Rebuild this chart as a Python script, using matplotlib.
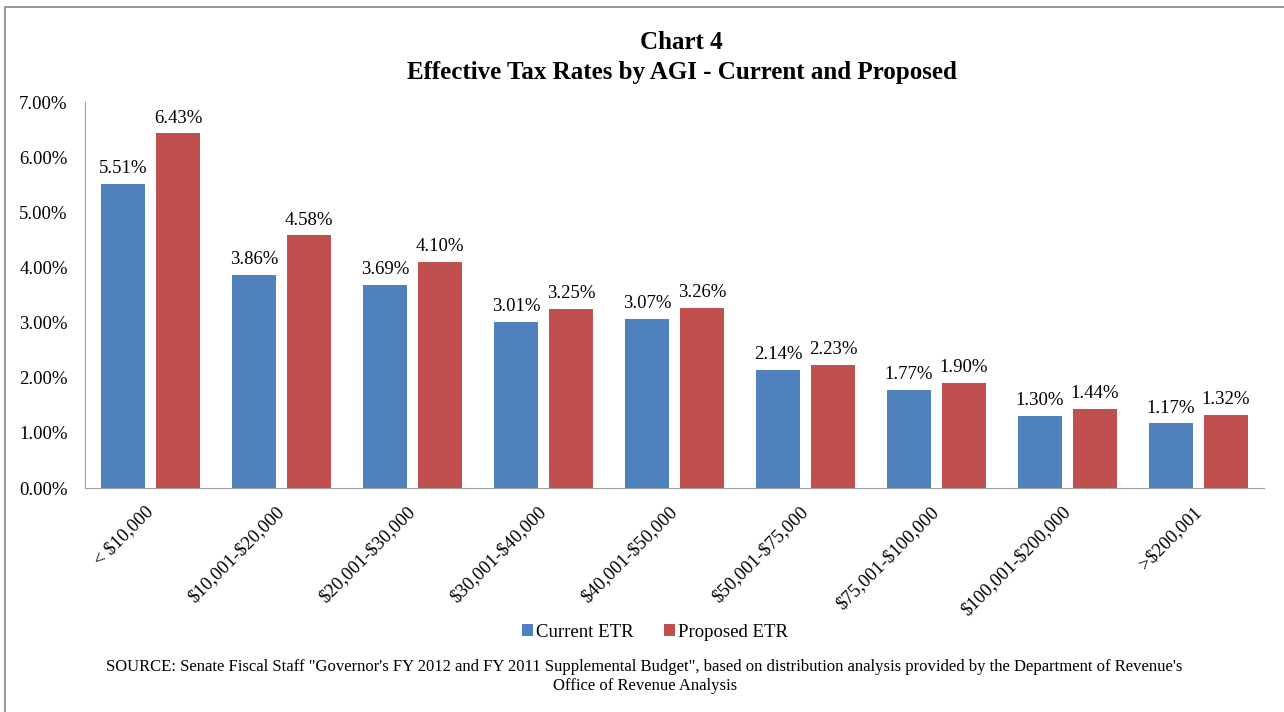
import matplotlib.pyplot as plt
import matplotlib.patches as mpatches
from matplotlib.transforms import ScaledTranslation
import numpy as np

categories = ['< $10,000', '$10,001-$20,000', '$20,001-$30,000', '$30,001-$40,000',
              '$40,001-$50,000', '$50,001-$75,000', '$75,001-$100,000',
              '$100,001-$200,000', '>$200,001']
current_etr = [5.51, 3.86, 3.69, 3.01, 3.07, 2.14, 1.77, 1.30, 1.17]
proposed_etr = [6.43, 4.58, 4.10, 3.25, 3.26, 2.23, 1.90, 1.44, 1.32]
yticks = [0, 1, 2, 3, 4, 5, 6, 7]

plt.rcParams['font.family'] = ['Liberation Serif', 'DejaVu Serif']
plt.rcParams['text.parse_math'] = False

fig = plt.figure(figsize=(12.84, 7.12), dpi=100)
ax = fig.add_axes([0.0662, 0.3146, 0.9182, 0.5421])

x = np.arange(len(categories))
w = 0.34
b1 = ax.bar(x - 0.21, current_etr, w, color='#4F81BD', label='Current ETR')
b2 = ax.bar(x + 0.21, proposed_etr, w, color='#C0504D', label='Proposed ETR')

# value labels
for bars, vals in ((b1, current_etr), (b2, proposed_etr)):
    for b, v in zip(bars, vals):
        ax.annotate('%.2f%%' % v, (b.get_x() + b.get_width() / 2, v),
                    xytext=(0, 5), textcoords='offset points',
                    ha='center', va='bottom', fontsize=13.5)

ax.set_xlim(-0.5, len(categories) - 0.5)
ax.set_ylim(0, 7)
ax.set_yticks(yticks)
ax.set_yticklabels(['%.2f%%' % t for t in yticks], fontsize=13.5)
ax.set_xticks(x)
ax.set_xticklabels(categories, rotation=45, ha='right', rotation_mode='anchor', fontsize=13.5)
ax.tick_params(axis='both', length=0)
ax.tick_params(axis='y', pad=12.5)
ax.tick_params(axis='x', pad=11)
# nudge the slanted labels a little left
shift = ScaledTranslation(-6 / 100, 0, fig.dpi_scale_trans)
for lbl in ax.get_xticklabels():
    lbl.set_transform(lbl.get_transform() + shift)
for s in ['top', 'right']:
    ax.spines[s].set_visible(False)
for s in ['left', 'bottom']:
    ax.spines[s].set_color('#A0A0A0')

fig.text(0.531, 0.940, 'Chart 4', ha='center', va='center', fontsize=18, fontweight='bold')
fig.text(0.531, 0.898, 'Effective Tax Rates by AGI - Current and Proposed', ha='center',
         va='center', fontsize=18, fontweight='bold')

fig.legend(handles=[b1, b2], loc='center', bbox_to_anchor=(0.510, 0.112), ncol=2,
           frameon=False, fontsize=13.5, handlelength=0.6, handleheight=0.6,
           handletextpad=0.15, columnspacing=1.6)

fig.text(0.502, 0.050, 'SOURCE: Senate Fiscal Staff "Governor\'s FY 2012 and FY 2011 Supplemental Budget", '
         'based on distribution analysis provided by the Department of Revenue\'s\nOffice of Revenue Analysis',
         ha='center', va='center', fontsize=12, linespacing=1.3)

# outer border
fig.add_artist(mpatches.Rectangle((5 / 1284, -0.05), 1.2, 1 - 7 / 712 + 0.05,
                                  transform=fig.transFigure, fill=False,
                                  edgecolor='#888888', linewidth=1.2))

fig.savefig('out.png', dpi=100)
